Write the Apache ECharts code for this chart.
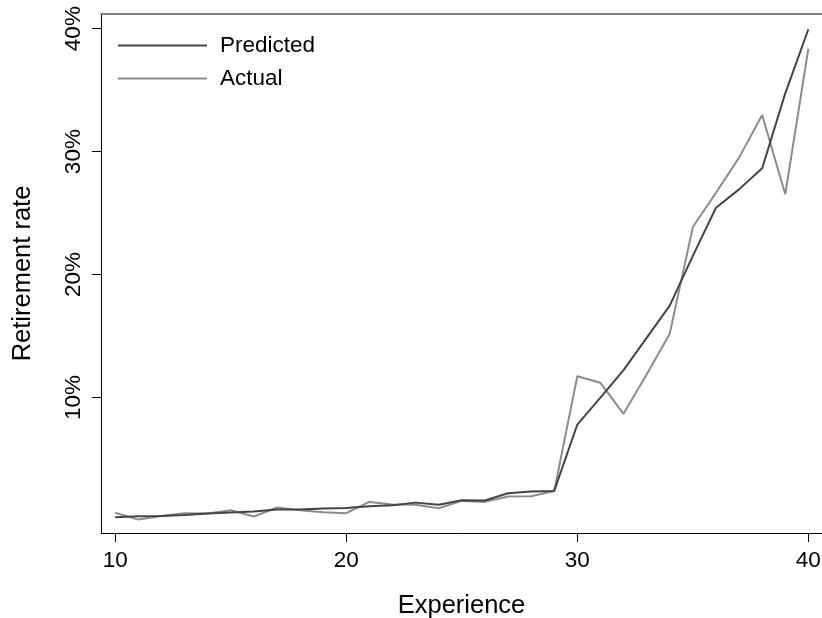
<!DOCTYPE html>
<html>
<head>
<meta charset="utf-8">
<script src="https://cdn.jsdelivr.net/npm/echarts@6/dist/echarts.min.js"></script>
<style>
html,body{margin:0;padding:0;background:#fff;}
#chart{width:822px;height:618px;}
</style>
</head>
<body>
<div id="chart"></div>
<script>
var experience = [10,11,12,13,14,15,16,17,18,19,20,21,22,23,24,25,26,27,28,29,30,31,32,33,34,35,36,37,38,39,40];
var predicted = [0.27,0.35,0.38,0.46,0.57,0.65,0.73,0.9,0.9,0.98,1.03,1.16,1.25,1.46,1.28,1.65,1.63,2.22,2.36,2.41,7.81,10.0,12.23,14.86,17.48,21.52,25.44,26.93,28.64,34.74,39.95];
var actual = [0.63,0.08,0.38,0.6,0.57,0.84,0.33,1.06,0.84,0.68,0.6,1.52,1.3,1.28,1.0,1.6,1.52,1.95,1.98,2.41,11.74,11.2,8.68,11.88,15.2,23.87,26.66,29.51,32.98,26.53,38.38];
var xTicks = [10,20,30,40];
var yTicks = [10,20,30,40];
var seriesNames = ['Predicted','Actual'];

function pairs(ys){ return experience.map(function(x,i){ return [x, ys[i]]; }); }

var font = 'Liberation Sans, Arial, Helvetica, sans-serif';
var chart = echarts.init(document.getElementById('chart'), null, {renderer:'canvas'});
chart.setOption({
  backgroundColor:'#ffffff',
  animation:false,
  grid:{left:101, right:0, top:14, bottom:85, containLabel:false, outerBoundsMode:'none'},
  legend:{
    left:118, top:34, orient:'vertical', icon:'rect', itemWidth:89, itemHeight:2, itemGap:10, padding:0,
    textStyle:{fontFamily:font, fontSize:22.5, color:'#000', padding:[0,0,0,8]},
    data:seriesNames
  },
  xAxis:[{
    type:'value', min:9.385, max:40.59,
    name:'Experience', nameLocation:'middle', nameGap:60,
    nameTextStyle:{fontFamily:font, fontSize:25.5, color:'#000'},
    axisLine:{show:true, onZero:false, lineStyle:{color:'#000', width:1}},
    axisTick:{show:true, inside:false, length:9, customValues:xTicks, lineStyle:{color:'#000'}},
    axisLabel:{show:true, margin:16, fontFamily:font, fontSize:22.5, color:'#000', customValues:xTicks},
    splitLine:{show:false}
  },{
    type:'value', position:'top', min:9.385, max:40.59,
    axisLine:{show:true, onZero:false, lineStyle:{color:'#808080', width:2}},
    axisTick:{show:false}, axisLabel:{show:false}, splitLine:{show:false}
  }],
  yAxis:{
    type:'value', min:-1.01, max:41.19,
    name:'Retirement rate', nameLocation:'middle', nameGap:65,
    nameTextStyle:{fontFamily:font, fontSize:25.5, color:'#000'},
    axisLine:{show:true, onZero:false, lineStyle:{color:'#000', width:1}},
    axisTick:{show:true, inside:false, length:9, customValues:yTicks, lineStyle:{color:'#000'}},
    axisLabel:{show:true, rotate:90, margin:16, fontFamily:font, fontSize:22.5, color:'#000', customValues:yTicks,
      formatter:function(v){return v+'%';}},
    splitLine:{show:false}
  },
  series:[{
    name:seriesNames[0], type:'line', data:pairs(predicted), xAxisIndex:0,
    showSymbol:false, symbol:'none', lineStyle:{color:'#444444', width:2}, itemStyle:{color:'#444444'}, z:3
  },{
    name:seriesNames[1], type:'line', data:pairs(actual), xAxisIndex:0,
    showSymbol:false, symbol:'none', lineStyle:{color:'#8c8c8c', width:2}, itemStyle:{color:'#8c8c8c'}, z:2
  }]
});
</script>
</body>
</html>
